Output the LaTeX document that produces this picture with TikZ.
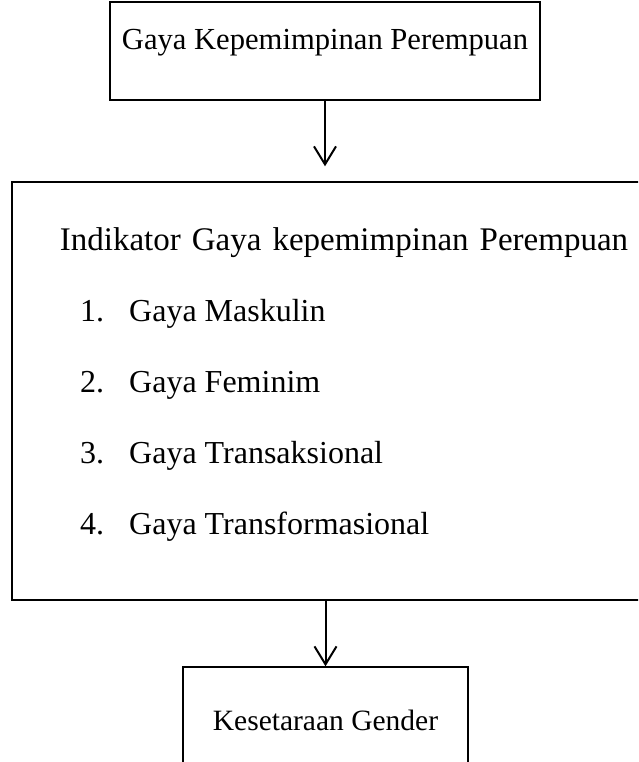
\documentclass[tikz,border=0pt]{standalone}
\usepackage{fontspec}
\setmainfont{Liberation Serif}
\usetikzlibrary{arrows.meta,positioning}

\begin{document}
\begin{tikzpicture}[
  x=1pt,y=-1pt,font=\fontsize{32}{38}\selectfont,
  box/.style={rectangle,draw,line width=1.4pt,inner sep=0pt},
  txt/.style={anchor=base,inner sep=0pt},
  itm/.style={anchor=base west,inner sep=0pt},
  ar/.style={-{Straight Barb[length=18pt,width=22pt,line width=2pt]},line width=2pt}
]
\useasboundingbox (0,0) rectangle (638,762);
\clip (0,0) rectangle (638,762);
\node[box,minimum width=430,minimum height=98] (top) at (325,51) {};
\node[box,minimum width=640,minimum height=418] (mid) at (332,391) {};
\node[box,minimum width=285,minimum height=120] (bot) at (325.5,727) {};
\node[txt,font=\fontsize{30.6}{36}\selectfont] (ttop) at (top.north |- 0,50) {Gaya Kepemimpinan Perempuan};
\node[txt,font=\fontsize{33}{38}\selectfont] (tmid) at (344,250) {\spaceskip=11pt\relax Indikator Gaya kepemimpinan Perempuan};
\node[txt,font=\fontsize{29.5}{35}\selectfont] (tbot) at (bot.north |- 0,730) {Kesetaraan Gender};
\foreach \i/\t in {1/Maskulin,2/Feminim,3/Transaksional,4/Transformasional}{
  \node[itm] (n\i) at (80,{250+71*\i}) {\i.};
  \node[itm] (g\i) at (129,{250+71*\i}) {Gaya \t};
}
\draw[ar,shorten >=15pt] (top.south) -- (top.south |- mid.north);
\draw[ar] (bot.north |- mid.south) -- (bot.north);
\end{tikzpicture}
\end{document}
